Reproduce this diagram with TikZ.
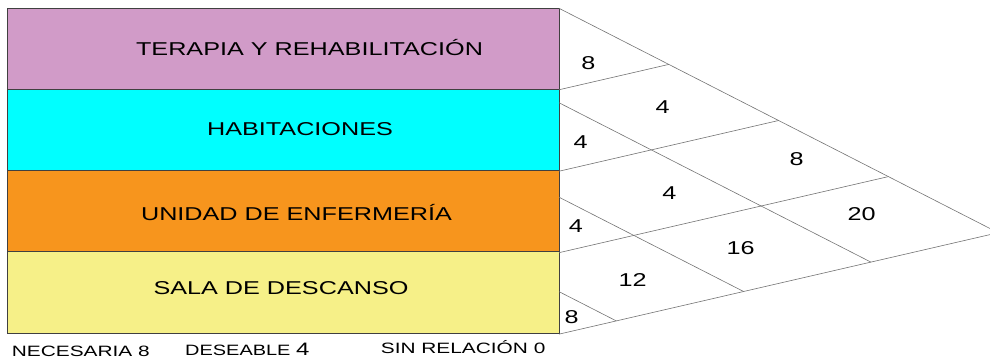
\documentclass[tikz,border=0pt]{standalone}
\usepackage{fontspec}
\setmainfont{Liberation Sans}
\usepackage{graphicx}
\usepackage{xcolor}
\usetikzlibrary{positioning}
\definecolor{lila}{RGB}{209,155,200}
\definecolor{cian}{RGB}{0,255,255}
\definecolor{naranja}{RGB}{247,149,29}
\definecolor{amarillo}{RGB}{246,240,136}
\newcommand{\ancho}[2][1.355]{\scalebox{#1}[1]{#2}}
\tikzset{
  % Texto de las areas y de la matriz:
  rotulo/.style={inner sep=0pt, font=\fontsize{18.6}{20}\selectfont},
  leyenda/.style={inner sep=0pt, anchor=base west, font=\fontsize{15}{17}\selectfont}
}
\begin{document}
\begin{tikzpicture}[
    x=1pt, y=-1pt,
    area/.style={
      draw=black!75,
      line width=0.9pt,
      outer sep=0pt,
      minimum width=552pt,
      minimum height=81.3pt
    },
    rejilla/.style={
      draw=black!55,
      line width=0.6pt
    }
  ]
  \useasboundingbox (0,0) rectangle (990,360);
  \node[area,fill=lila,anchor=north west] (terapia) at (7,8) {};
  \node[area,fill=cian,below=0pt of terapia] (habitaciones) {};
  \node[area,fill=naranja,below=0pt of habitaciones] (enfermeria) {};
  \node[area,fill=amarillo,below=0pt of enfermeria] (descanso) {};
  \node[rotulo,anchor=base] (t-terapia) at (309.5,55.7) {\ancho{TERAPIA Y REHABILITACIÓN}};
  \node[rotulo,anchor=base] (t-habitaciones) at (300,135) {\ancho{HABITACIONES}};
  \node[rotulo,anchor=base] (t-enfermeria) at (296.5,220) {\ancho{UNIDAD DE ENFERMERÍA}};
  \node[rotulo,anchor=base] (t-descanso) at (281,294) {\ancho{SALA DE DESCANSO}};
  % matriz de relaciones
  \begin{scope}
    \clip (terapia.north east) rectangle (990,360);
    \begin{scope}[shift={(559,8.3)}, x={(109.8pt,-56.1pt)}, y={(-127.3pt,-29.4pt)}]
      \foreach \m in {1,...,4} \draw[rejilla] (\m,0) -- (\m,\m);
      \foreach \n in {0,...,3} \draw[rejilla] (0,\n) -- (4,\n);
    \end{scope}
  \end{scope}
  \node[rotulo] (v1) at (588.3,63.5) {\ancho{8}};
  \node[rotulo] (v2) at (662.7,106.7) {\ancho{4}};
  \node[rotulo] (v3) at (580.7,141.7) {\ancho{4}};
  \node[rotulo] (v4) at (796.7,159.3) {\ancho{8}};
  \node[rotulo] (v5) at (669.3,192.7) {\ancho{4}};
  \node[rotulo] (v6) at (861.7,214) {\ancho{20}};
  \node[rotulo] (v7) at (576,226) {\ancho{4}};
  \node[rotulo] (v8) at (740.7,248.3) {\ancho{16}};
  \node[rotulo] (v9) at (632.7,280) {\ancho{12}};
  \node[rotulo] (v10) at (571.7,316.7) {\ancho{8}};
  % leyenda
  \node[leyenda] (necesaria) at (11.7,356.7) {\ancho[1.39]{NECESARIA 8}};
  \node[leyenda] (deseable) at (185,355.7) {\ancho[1.33]{DESEABLE {\fontsize{18}{20}\selectfont 4}}};
  \node[leyenda] (sinrelacion) at (380.7,353.3) {\ancho[1.39]{SIN RELACIÓN 0}};
\end{tikzpicture}
\end{document}
